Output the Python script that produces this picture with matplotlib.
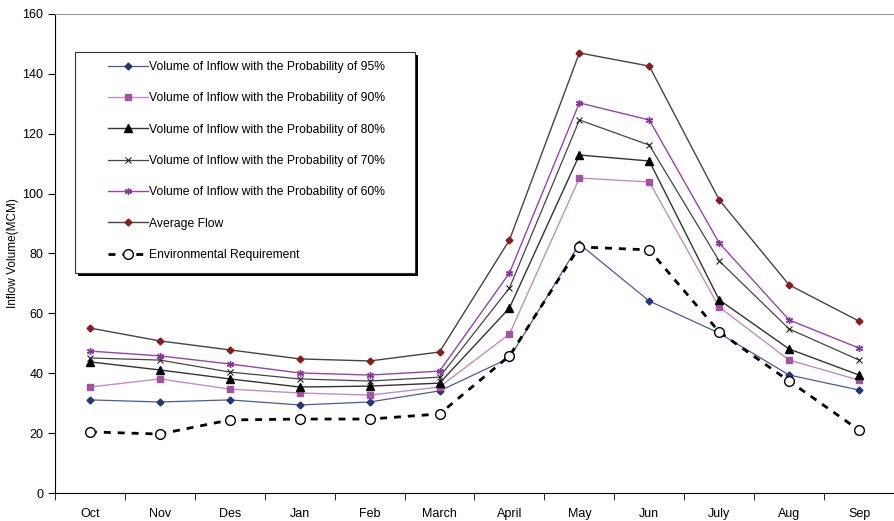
import matplotlib.pyplot as plt
import matplotlib.patches as mpatches
import numpy as np

plt.rcParams['font.family'] = ['Liberation Sans', 'DejaVu Sans']

months = ['Oct', 'Nov', 'Des', 'Jan', 'Feb', 'March', 'April', 'May', 'Jun', 'July', 'Aug', 'Sep']

p95 = [31.1, 30.4, 31.1, 29.4, 30.4, 34.1, 45.1, 83.2, 64.1, 53.4, 39.4, 34.4]
p90 = [35.4, 38.1, 34.7, 33.4, 32.7, 35.4, 53.1, 105.2, 103.9, 62.1, 44.4, 37.7]
p80 = [43.8, 41.1, 38.1, 35.4, 35.7, 36.7, 61.8, 112.9, 110.9, 64.5, 48.1, 39.4]
p70 = [45.1, 44.4, 40.4, 38.1, 37.4, 38.7, 68.5, 124.6, 116.2, 77.5, 54.8, 44.4]
p60 = [47.4, 45.8, 43.1, 40.1, 39.4, 40.7, 73.5, 130.3, 124.6, 83.5, 57.8, 48.4]
avg_flow = [55.1, 50.8, 47.8, 44.8, 44.1, 47.1, 84.5, 147.0, 142.6, 97.9, 69.5, 57.4]
env_req = [20.4, 19.7, 24.4, 24.7, 24.7, 26.4, 45.8, 82.2, 81.2, 53.8, 37.4, 21.0]

x = np.arange(len(months))

W, H = 894, 521
fig = plt.figure(figsize=(W/100, H/100), dpi=100)
ax = fig.add_axes([55/W, 1-493/H, 1-55/W, (493-14)/H])

ax.plot(x, p95, color='#4a5a9c', lw=0.9, marker='D', ms=3.5, mfc='#24357a', mec='#24357a',
        label='Volume of Inflow with the Probability of 95%')
ax.plot(x, p90, color='#c48ac4', lw=1.0, marker='s', ms=5, mfc='#a552a5', mec='#a552a5',
        label='Volume of Inflow with the Probability of 90%')
ax.plot(x, p80, color='#333333', lw=1.0, marker='^', ms=6, mfc='black', mec='black',
        label='Volume of Inflow with the Probability of 80%')
ax.plot(x, p70, color='#444444', lw=0.9, marker='x', ms=5, mec='#222222', mew=0.8,
        label='Volume of Inflow with the Probability of 70%')
ax.plot(x, p60, color='#9a40b0', lw=1.0, marker=(6, 2, 0), ms=5, mec='#8a30a0', mew=1.0,
        label='Volume of Inflow with the Probability of 60%')
ax.plot(x, avg_flow, color='#444444', lw=1.0, marker='D', ms=3.5, mfc='#8b1a1a', mec='#8b1a1a',
        label='Average Flow')
ax.plot(x, env_req, color='black', lw=2.0, ls=(0, (2.5, 2.5)), marker='o', ms=7, mfc='white',
        mec='black', mew=1.0, label='Environmental Requirement')

ax.set_xlim(-0.5, 11.5)
ax.set_ylim(0, 160)
ax.set_yticks(range(0, 161, 20))
ax.set_xticks(x)
ax.set_xticklabels(months, fontsize=9)
for lbl in ax.get_xticklabels():
    lbl.set_va('baseline')
ax.set_xticks(np.arange(-0.5, 12, 1), minor=True)
ax.tick_params(axis='x', which='major', length=0, pad=17)
ax.tick_params(axis='x', which='minor', length=5, direction='out')
ax.tick_params(axis='y', length=5, direction='out', labelsize=9)
ax.set_ylabel('Inflow Volume(MCM)', fontsize=8.5)
ax.yaxis.set_label_coords(-36/839, 0.5)

ax.spines['right'].set_visible(False)
ax.spines['top'].set_color('#999999')

# legend box with dark shadow (drawn inside the axes so it stays under the legend)
box_l, box_t, box_r, box_b = 75, 52, 415, 273
bw, bh = (box_r - box_l) / W, (box_b - box_t) / H
shadow = mpatches.Rectangle(((box_l + 3) / W, 1 - (box_b + 3) / H), bw, bh,
                            transform=fig.transFigure, facecolor='black', edgecolor='none',
                            zorder=5, clip_on=False)
frame = mpatches.Rectangle((box_l / W, 1 - box_b / H), bw, bh,
                           transform=fig.transFigure, facecolor='white', edgecolor='#333333',
                           lw=0.8, zorder=6, clip_on=False)
ax.add_artist(shadow)
ax.add_artist(frame)

leg = ax.legend(loc='upper left', bbox_to_anchor=(108/W, 1 - 61/H), bbox_transform=fig.transFigure,
                frameon=False, fontsize=8.7, labelspacing=1.6, handlelength=3.3, handletextpad=0.1,
                borderpad=0, borderaxespad=0)
leg.set_zorder(7)

fig.savefig('out.png', dpi=100)
